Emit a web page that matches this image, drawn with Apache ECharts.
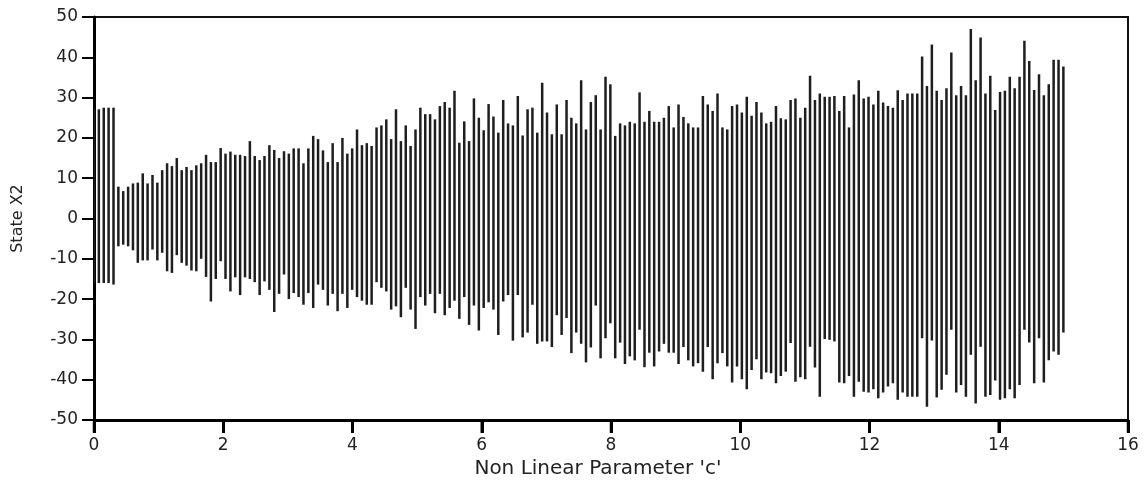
<!DOCTYPE html>
<html>
<head>
<meta charset="utf-8">
<script src="https://cdn.jsdelivr.net/npm/echarts@6.0.0/dist/echarts.min.js"></script>
<style>
html,body{margin:0;padding:0;background:#fff;}
#chart{width:1144px;height:487px;}
</style>
</head>
<body>
<div id="chart"></div>
<script>
// Parameter values 'c' (200 samples from 0 to 15)
const cValues = [
0,0.075,0.151,0.226,0.302,0.377,0.452,0.528,0.603,0.678,
0.754,0.829,0.905,0.980,1.055,1.131,1.206,1.281,1.357,1.432,
1.508,1.583,1.658,1.734,1.809,1.884,1.960,2.035,2.111,2.186,
2.261,2.337,2.412,2.487,2.563,2.638,2.714,2.789,2.864,2.940,
3.015,3.090,3.166,3.241,3.317,3.392,3.467,3.543,3.618,3.693,
3.769,3.844,3.920,3.995,4.070,4.146,4.221,4.296,4.372,4.447,
4.523,4.598,4.673,4.749,4.824,4.899,4.975,5.050,5.126,5.201,
5.276,5.352,5.427,5.503,5.578,5.653,5.729,5.804,5.879,5.955,
6.030,6.106,6.181,6.256,6.332,6.407,6.482,6.558,6.633,6.709,
6.784,6.859,6.935,7.010,7.085,7.161,7.236,7.312,7.387,7.462,
7.538,7.613,7.688,7.764,7.839,7.915,7.990,8.065,8.141,8.216,
8.291,8.367,8.442,8.518,8.593,8.668,8.744,8.819,8.894,8.970,
9.045,9.121,9.196,9.271,9.347,9.422,9.497,9.573,9.648,9.724,
9.799,9.874,9.950,10.025,10.101,10.176,10.251,10.327,10.402,10.477,
10.553,10.628,10.704,10.779,10.854,10.930,11.005,11.080,11.156,11.231,
11.307,11.382,11.457,11.533,11.608,11.683,11.759,11.834,11.910,11.985,
12.060,12.136,12.211,12.286,12.362,12.437,12.513,12.588,12.663,12.739,
12.814,12.889,12.965,13.040,13.116,13.191,13.266,13.342,13.417,13.492,
13.568,13.643,13.719,13.794,13.869,13.945,14.020,14.095,14.171,14.246,
14.322,14.397,14.472,14.548,14.623,14.698,14.774,14.849,14.925,15
];

// Maximum of State X2 at each c
const x2Max = [
27.1,27.1,27.5,27.5,27.5, 7.9,6.8,7.9,8.7,8.9,
11.2,8.7,10.8,8.9,12, 13.7,13,15,12,12.8,
12,13.2,13.7,15.8,14, 14,17.5,16.1,16.6,15.8,
15.8,15.5,19.2,15.5,14.5, 15.5,18.2,17,15,16.7,
16.1,17.4,17.4,13.7,17.4, 20.5,19.7,16.9,14,18.7,
14,20,16.1,17.4,22.1, 18.2,18.7,18,22.6,23.1,
24.6,19.7,27.1,19.2,23.1, 18,22.1,27.5,25.9,25.9,
24.6,27.9,28.9,27.5,31.7, 18.8,24.1,19.2,29.8,25,
21.9,28.4,25.3,21.3,29.4, 23.6,23.1,30.4,20.6,27.1,
27.5,21.3,33.7,26.3,20.9, 28.3,20.9,29.4,25,23.6,
34.3,22.1,28.9,30.6,22.1, 35.2,33.3,20.5,23.6,23.1,
24,23.6,31.3,24,26.7, 24,24,25,27.9,22.6,
28.3,25.2,23.6,22.6,22.6, 30.4,28.3,26.7,31,22.6,
22.1,27.9,28.3,26.3,30.2, 25.5,28.9,26.3,23.6,24,
27.9,24.9,24.6,29.4,29.8, 25,27.5,35.4,29.4,31,
30.2,30.2,30.4,26.7,30.4, 22.6,30.8,34.3,29.8,30.2,
28.3,31.7,28.8,27.9,27.5, 31.8,29.4,31,31,31,
40.2,32.9,43.2,31.7,29.4, 32.3,41.2,30.6,32.9,30.6,
47,34.3,44.9,31,35.4, 26.9,31.4,31.7,35.2,32.3,
35.2,44.1,39.1,31.9,35.8, 30.6,33.3,39.4,39.4,37.7
];

// Minimum of State X2 at each c
const x2Min = [
-16,-16,-16,-16,-16.4, -6.9,-6.5,-6.9,-7.9,-11,
-10.4,-10.4,-7.7,-10.4,-8.5, -13.1,-13.5,-9.1,-11,-11.7,
-12.9,-13.1,-10,-14.5,-20.6, -15,-10.6,-15,-18.1,-14.6,
-19,-14.6,-15,-15.8,-19, -15.6,-17.7,-23.2,-18.7,-13.9,
-20,-18.5,-19.5,-21.4,-18.5, -22.2,-16.4,-17.7,-21.6,-18.7,
-23,-18.7,-22.2,-17.7,-19.5, -20.4,-21.4,-21.4,-15.8,-17.2,
-18.1,-22.6,-21.8,-24.5,-17.2, -22.6,-27.4,-19.5,-21.6,-18.7,
-23.5,-18.7,-24,-22.2,-20.4, -24.9,-19.5,-26.4,-21.6,-27.8,
-22.2,-20.8,-22.6,-28.9,-20.6, -19,-30.3,-19,-29.5,-28.3,
-21.4,-31.1,-30.5,-30.5,-31.9, -24,-28.9,-24.7,-33.4,-28.3,
-31.1,-35.7,-32,-21.6,-34.7, -29.7,-26,-34.7,-30.8,-36.1,
-34.2,-35.2,-27.6,-36.9,-33.3, -36.7,-33,-31.1,-33.3,-33.3,
-36.1,-31.9,-35.2,-36.7,-35.9, -38,-31.9,-39.9,-35.9,-33.4,
-36.7,-40.7,-36.7,-39.9,-42.4, -37.6,-34.9,-39.9,-38.2,-38.4,
-40.9,-39.1,-38,-30.9,-40.5, -39.4,-39.9,-31.8,-37,-44.2,
-29.9,-30.1,-30.5,-40.7,-40.9, -39.1,-44.2,-40.5,-43,-43.2,
-42.4,-44.6,-43.2,-41.7,-40.9, -45,-43.2,-44.2,-44.2,-44.2,
-29.7,-46.7,-30.3,-44.4,-42.5, -38.8,-27.6,-43.2,-41.3,-44.2,
-33.8,-45.9,-31.8,-44.2,-43.8, -40.2,-45,-44.6,-42.4,-44.6,
-41.3,-27.6,-30.8,-40.9,-29.7, -40.7,-35.2,-33,-33.8,-28.3
];

const xTicks = [0,2,4,6,8,10,12,14,16];
const yTicks = [-50,-40,-30,-20,-10,0,10,20,30,40,50];

const data = cValues.map((c, i) => [c, x2Min[i], x2Max[i]]);

const FONT = 'DejaVu Sans';
const chart = echarts.init(document.getElementById('chart'), null, {renderer: 'canvas'});
chart.setOption({
  animation: false,
  backgroundColor: '#ffffff',
  grid: {
    left: 94, right: 16, top: 17, bottom: 67,
    show: true, borderColor: '#111', borderWidth: 2
  },
  xAxis: {
    type: 'value', min: xTicks[0], max: xTicks[xTicks.length - 1], interval: 2,
    name: "Non Linear Parameter 'c'", nameLocation: 'middle', nameGap: 36,
    nameTextStyle: {fontFamily: FONT, fontSize: 20, color: '#222', padding: [0, 26, 0, 0]},
    axisLine: {onZero: false, lineStyle: {color: '#000', width: 3}},
    axisTick: {show: true, inside: false, length: 13, lineStyle: {color: '#000', width: 3}},
    axisLabel: {fontFamily: FONT, fontSize: 17, color: '#222', margin: 17},
    splitLine: {show: false}
  },
  yAxis: {
    type: 'value', min: yTicks[0], max: yTicks[yTicks.length - 1], interval: 10,
    name: 'State X2', nameLocation: 'middle', nameGap: 68,
    nameTextStyle: {fontFamily: FONT, fontSize: 16, color: '#222'},
    axisLine: {onZero: false, lineStyle: {color: '#000', width: 3}},
    axisTick: {show: true, inside: false, length: 12, lineStyle: {color: '#000', width: 2}},
    axisLabel: {fontFamily: FONT, fontSize: 17, color: '#222', margin: 16},
    splitLine: {show: false}
  },
  series: [{
    type: 'custom',
    data: data,
    encode: {x: 0, y: [1, 2]},
    clip: true,
    renderItem: function (params, api) {
      const c = api.value(0);
      const lo = api.coord([c, api.value(1)]);
      const hi = api.coord([c, api.value(2)]);
      return {
        type: 'line',
        shape: {x1: lo[0], y1: lo[1], x2: hi[0], y2: hi[1]},
        style: {stroke: '#1e1e1e', lineWidth: 2.5}
      };
    }
  }]
});

// x-axis tick marks positioned through the chart's own x scale
const tickGraphics = xTicks.map(function (t) {
  const p = chart.convertToPixel({gridIndex: 0}, [t, yTicks[0]]);
  return {
    type: 'line', z: 100, silent: true,
    shape: {x1: p[0], y1: p[1] + 2, x2: p[0], y2: p[1] + 13},
    style: {stroke: '#000', lineWidth: 2.5}
  };
});
chart.setOption({graphic: tickGraphics});
</script>
</body>
</html>
